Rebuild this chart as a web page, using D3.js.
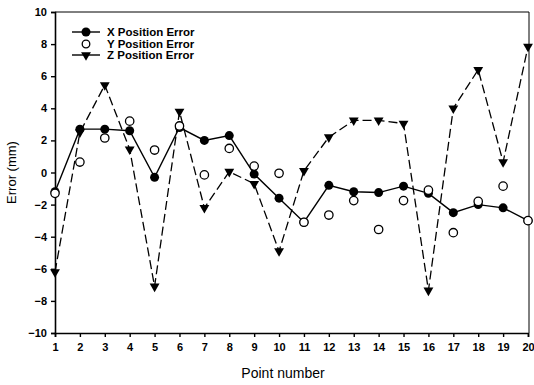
<!DOCTYPE html>
<html><head><meta charset="utf-8">
<script src="https://cdn.jsdelivr.net/npm/d3@7/dist/d3.min.js"></script>
<style>body{margin:0;background:#fff}svg{display:block}text{font-family:Arial,"Liberation Sans",sans-serif;fill:#000}</style>
</head><body><svg id="c" width="534" height="385"></svg>
<script>
const points = d3.range(1, 21);
const xError = [-1.2, 2.7, 2.7, 2.6, -0.3, 2.8, 2.0, 2.3, -0.1, -1.6, -3.1, -0.8, -1.2, -1.25, -0.85, -1.3, -2.5, -2.0, -2.2, -3.0];
const yError = [-1.3, 0.65, 2.15, 3.2, 1.4, 2.9, -0.15, 1.5, 0.4, -0.05, -3.1, -2.65, -1.75, -3.55, -1.75, -1.1, -3.75, -1.8, -0.85, -3.0];
const zError = [-6.2, 2.5, 5.45, 1.45, -7.1, 3.8, -2.2, 0.05, -0.7, -4.9, 0.1, 2.2, 3.25, 3.25, 3.05, -7.35, 4.0, 6.4, 0.65, 7.85];
const yTicks = [-10, -8, -6, -4, -2, 0, 2, 4, 6, 8, 10];
const legendLabels = ["X Position Error", "Y Position Error", "Z Position Error"];

const svg = d3.select("#c");
const L = 55, R = 528, T = 12, B = 333;
const x = d3.scaleLinear().domain([1, 20]).range([L, R]);
const y = d3.scaleLinear().domain([-10, 10]).range([B, T]);

// frame top/right
svg.append("path").attr("d", `M${L},${T}H${R+1}V${B}`).attr("fill", "none").attr("stroke", "#000").attr("stroke-width", 1);

const yAxis = svg.append("g").attr("transform", `translate(${L},0)`)
  .call(d3.axisLeft(y).tickValues(yTicks).tickSize(4).tickPadding(4));
const xAxis = svg.append("g").attr("transform", `translate(0,${B})`)
  .call(d3.axisBottom(x).tickValues(points).tickSize(4).tickPadding(6).tickFormat(d3.format("d")));
[yAxis, xAxis].forEach(g => {
  g.select(".domain").attr("stroke-width", 1.6);
  g.selectAll(".tick line").attr("stroke-width", 1.4);
  g.selectAll("text").attr("font-size", 11).attr("font-weight", "bold").style("font-family", "Arial, 'Liberation Sans', sans-serif");
});

svg.append("text").attr("x", 283).attr("y", 378).attr("text-anchor", "middle")
  .attr("font-size", 14).text("Point number");
svg.append("text").attr("transform", `translate(16,${(T + B) / 2}) rotate(-90)`).attr("text-anchor", "middle")
  .attr("font-size", 13).text("Error (mm)");

const line = d3.line().x((d, i) => x(points[i])).y(d => y(d));
svg.append("path").datum(zError).attr("d", line).attr("fill", "none").attr("stroke", "#000").attr("stroke-width", 1.3).attr("stroke-dasharray", "9,4");
svg.append("path").datum(xError).attr("d", line).attr("fill", "none").attr("stroke", "#000").attr("stroke-width", 1.4);

const tri = d3.symbol().type(d3.symbolTriangle).size(42);
svg.append("g").selectAll("path").data(zError).join("path")
  .attr("d", tri).attr("transform", (d, i) => `translate(${x(points[i])},${y(d)}) rotate(180)`).attr("fill", "#000");
svg.append("g").selectAll("circle").data(xError).join("circle")
  .attr("cx", (d, i) => x(points[i])).attr("cy", d => y(d)).attr("r", 4.5).attr("fill", "#000");
svg.append("g").selectAll("circle").data(yError).join("circle")
  .attr("cx", (d, i) => x(points[i])).attr("cy", d => y(d)).attr("r", 4.2).attr("fill", "#fff").attr("stroke", "#000").attr("stroke-width", 1.3);

// legend
const lg = svg.append("g");
const rows = [32, 44, 55];
legendLabels.forEach((lab, i) => {
  const ry = rows[i], mx = 86;
  if (i !== 1) lg.append("line").attr("x1", 72).attr("x2", 100).attr("y1", ry).attr("y2", ry).attr("stroke", "#000").attr("stroke-width", 1.4);
  if (i === 0) lg.append("circle").attr("cx", mx).attr("cy", ry).attr("r", 4.5).attr("fill", "#000");
  if (i === 1) lg.append("circle").attr("cx", mx).attr("cy", ry).attr("r", 3.8).attr("fill", "#fff").attr("stroke", "#000").attr("stroke-width", 1.3);
  if (i === 2) lg.append("path").attr("d", tri).attr("transform", `translate(${mx},${ry}) rotate(180)`).attr("fill", "#000");
  lg.append("text").attr("x", 107).attr("y", ry + 4).attr("font-size", 11.5).attr("font-weight", "bold").text(lab);
});
</script></body></html>
